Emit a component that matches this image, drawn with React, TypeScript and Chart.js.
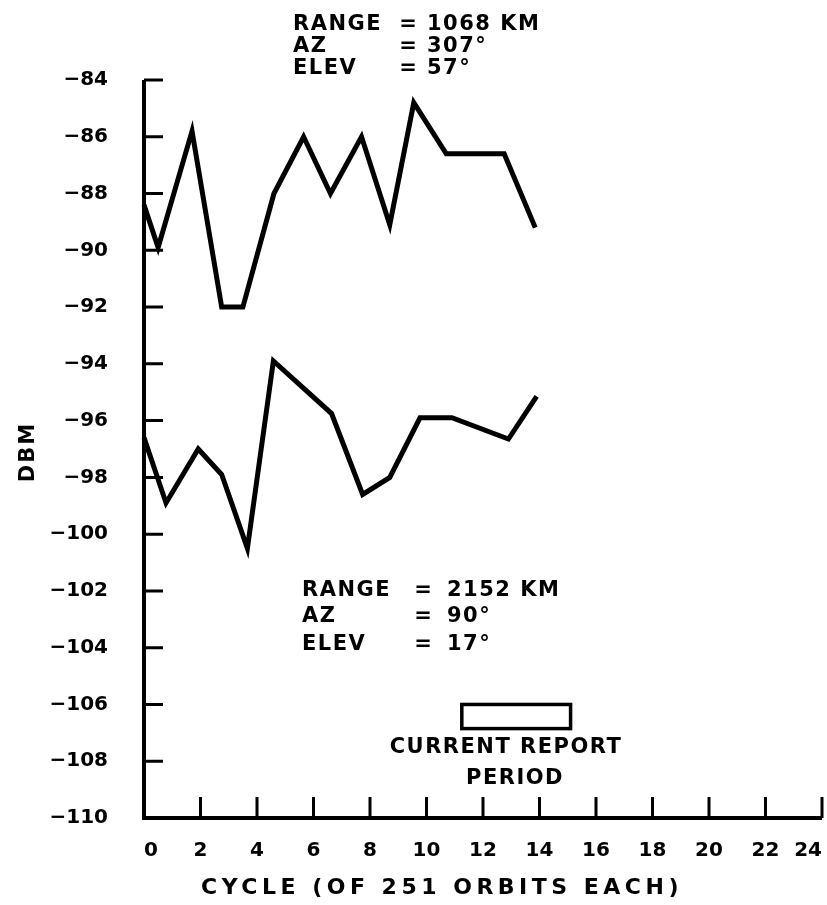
import { useEffect, useRef } from "react";
import { Chart, registerables } from "chart.js";

Chart.register(...registerables);

// Upper curve (RANGE 1068 KM) – cycle positions as plotted, DBM values
const upperCycles = [0, 0.5, 1.7, 2.75, 3.5, 4.6, 5.65, 6.6, 7.7, 8.7, 9.55, 10.7, 12.75, 13.85];
const upperDbm = [-88.4, -89.9, -85.8, -92.0, -92.0, -88.0, -86.0, -88.0, -86.0, -89.1, -84.8, -86.6, -86.6, -89.2];

// Lower curve (RANGE 2152 KM)
const lowerCycles = [0, 0.78, 1.92, 2.75, 3.66, 4.58, 6.64, 7.74, 8.7, 9.77, 10.9, 12.9, 13.9];
const lowerDbm = [-96.6, -98.9, -97.0, -97.9, -100.5, -93.9, -95.75, -98.6, -98.0, -95.9, -95.9, -96.65, -95.15];

// Axis ranges / ticks
const xMin = 0;
const xMax = 24;
const xStep = 2;
const yMin = -110;
const yMax = -84;
const yStep = 2;

// Current report period box (cycle span, dbm span)
const reportPeriodCycles = [11.25, 15.1];
const reportPeriodDbm = [-106, -106.85];

// Texts
const upperInfoLabels = ["RANGE", "AZ", "ELEV"];
const upperInfoValues = ["1068 KM", "307°", "57°"];
const lowerInfoLabels = ["RANGE", "AZ", "ELEV"];
const lowerInfoValues = ["2152 KM", "90°", "17°"];
const reportLines = ["CURRENT REPORT", "PERIOD"];
const xTitle = "CYCLE (OF 251 ORBITS EACH)";
const yTitle = "DBM";

const FONT = '"DejaVu Sans", sans-serif';

function drawText(
  ctx: CanvasRenderingContext2D,
  text: string,
  x: number,
  y: number,
  align: CanvasTextAlign = "left",
  size = 21,
  spacing = 1.5
) {
  ctx.font = `bold ${size}px ${FONT}`;
  (ctx as any).letterSpacing = `${spacing}px`;
  ctx.textAlign = align;
  ctx.textBaseline = "alphabetic";
  ctx.fillStyle = "#000";
  ctx.fillText(text, x, y);
}

const paperPlugin = {
  id: "paperPlugin",
  afterDraw(chart: any) {
    const ctx: CanvasRenderingContext2D = chart.ctx;
    const { left, right, top, bottom } = chart.chartArea;
    const xs = chart.scales.x;
    const ys = chart.scales.y;
    ctx.save();
    // axes
    ctx.strokeStyle = "#000";
    ctx.lineWidth = 4;
    ctx.beginPath();
    ctx.moveTo(left, top);
    ctx.lineTo(left, bottom);
    ctx.lineTo(right, bottom);
    ctx.stroke();
    // inward ticks
    ctx.lineWidth = 3;
    ctx.beginPath();
    ys.ticks.forEach((t: any) => {
      const py = ys.getPixelForValue(t.value);
      ctx.moveTo(left, py);
      ctx.lineTo(left + 19, py);
    });
    xs.ticks.forEach((t: any) => {
      if (t.value === xMin) return;
      const px = xs.getPixelForValue(t.value);
      ctx.moveTo(px, bottom);
      ctx.lineTo(px, bottom - 21);
    });
    ctx.stroke();

    // report period box
    const bx0 = xs.getPixelForValue(reportPeriodCycles[0]);
    const bx1 = xs.getPixelForValue(reportPeriodCycles[1]);
    const by0 = ys.getPixelForValue(reportPeriodDbm[0]);
    const by1 = ys.getPixelForValue(reportPeriodDbm[1]);
    ctx.lineWidth = 3.5;
    ctx.strokeRect(bx0, by0, bx1 - bx0, by1 - by0);

    // upper info block
    const upBase = [30, 52, 74];
    upperInfoLabels.forEach((l, i) => {
      drawText(ctx, l, 293, upBase[i]);
      drawText(ctx, "=", 408, upBase[i], "center", 21, 0);
      drawText(ctx, upperInfoValues[i], 427, upBase[i]);
    });
    // lower info block
    const lowBase = [596, 622, 650];
    lowerInfoLabels.forEach((l, i) => {
      drawText(ctx, l, 302, lowBase[i]);
      drawText(ctx, "=", 423, lowBase[i], "center", 21, 0);
      drawText(ctx, lowerInfoValues[i], 447, lowBase[i]);
    });
    // report caption
    drawText(ctx, reportLines[0], 506, 753, "center");
    drawText(ctx, reportLines[1], 515, 784, "center");

    // axis titles
    drawText(ctx, xTitle, 442, 894, "center", 22, 4.5);
    ctx.save();
    ctx.translate(34, 452);
    ctx.rotate(-Math.PI / 2);
    drawText(ctx, yTitle, 0, 0, "center", 21, 2);
    ctx.restore();

    ctx.restore();
  },
};

export default function App() {
  const canvasRef = useRef<HTMLCanvasElement | null>(null);

  useEffect(() => {
    document.body.style.margin = "0";
    const canvas = canvasRef.current;
    if (!canvas) return;
    const tickFont = { family: FONT, size: 20, weight: "bold" as const };
    const chart = new Chart(canvas, {
      type: "line",
      data: {
        datasets: [
          {
            label: "RANGE 1068 KM",
            data: upperCycles.map((c, i) => ({ x: c, y: upperDbm[i] })),
            borderColor: "#000",
            borderWidth: 5,
            pointRadius: 0,
            tension: 0,
            fill: false,
            clip: false as any,
          },
          {
            label: "RANGE 2152 KM",
            data: lowerCycles.map((c, i) => ({ x: c, y: lowerDbm[i] })),
            borderColor: "#000",
            borderWidth: 5,
            pointRadius: 0,
            tension: 0,
            fill: false,
            clip: false as any,
          },
        ],
      },
      options: {
        responsive: false,
        animation: false,
        devicePixelRatio: 1,
        layout: { padding: { left: 0, right: 5, top: 80, bottom: 0 } },
        plugins: {
          legend: { display: false },
          tooltip: { enabled: false },
          title: { display: false },
        },
        scales: {
          x: {
            type: "linear",
            min: xMin,
            max: xMax,
            border: { display: false },
            grid: { display: false, drawTicks: false },
            ticks: {
              stepSize: xStep,
              align: "inner",
              padding: 21,
              color: "#000",
              font: tickFont,
              maxRotation: 0,
              autoSkip: false,
            },
            afterFit: (s: any) => {
              s.height = 87;
              s.paddingLeft = 0;
              s.paddingRight = 0;
            },
          },
          y: {
            type: "linear",
            min: yMin,
            max: yMax,
            border: { display: false },
            grid: { display: false, drawTicks: false },
            ticks: {
              stepSize: yStep,
              padding: 36,
              color: "#000",
              font: tickFont,
              autoSkip: false,
              callback: (v: any) => String(v).replace("-", "\u2212"),
            },
            afterFit: (s: any) => {
              s.width = 144;
            },
          },
        },
      },
      plugins: [paperPlugin],
    });
    return () => chart.destroy();
  }, []);

  return (
    <canvas
      ref={canvasRef}
      width={827}
      height={905}
      style={{ display: "block", width: 827, height: 905 }}
    />
  );
}
